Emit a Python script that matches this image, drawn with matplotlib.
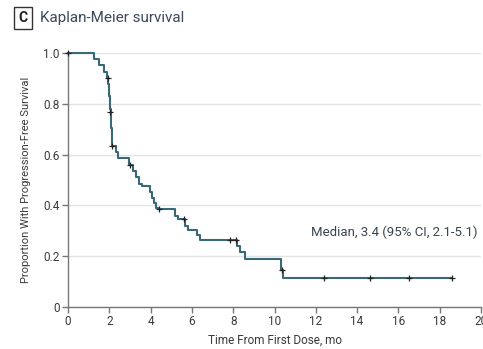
import numpy as np
import matplotlib
matplotlib.use('Agg')
import matplotlib.pyplot as plt
from matplotlib.ticker import FixedLocator

plt.rcParams['font.family'] = ['Roboto', 'DejaVu Sans']

# Kaplan-Meier step points (time in months, survival after the drop)
km_time = [0, 1.25, 1.5, 1.75, 1.88, 1.96, 1.98, 2.0, 2.02, 2.04, 2.06, 2.08, 2.1,
           2.12, 2.15, 2.3, 2.4, 2.95, 3.15, 3.3, 3.45, 3.6, 3.95, 4.05, 4.15, 4.25,
           4.35, 5.2, 5.35, 5.65, 5.8, 6.25, 6.4, 8.2, 8.35, 8.55, 10.3, 10.4]
km_surv = [1.0, 0.976, 0.951, 0.927, 0.902, 0.878, 0.853, 0.829, 0.804, 0.78, 0.755,
           0.731, 0.706, 0.682, 0.634, 0.61, 0.585, 0.56, 0.535, 0.51, 0.485, 0.478,
           0.453, 0.43, 0.41, 0.39, 0.385, 0.36, 0.345, 0.32, 0.305, 0.285, 0.265,
           0.24, 0.215, 0.19, 0.146, 0.115]
t_end = 18.6

# censored observations
cens_time = [0.0, 1.92, 2.03, 2.13, 3.0, 4.4, 5.6, 7.85, 8.15, 10.35, 12.4, 14.6, 16.5, 18.6]
cens_surv = [1.0, 0.902, 0.768, 0.634, 0.56, 0.385, 0.345, 0.265, 0.265, 0.146,
             0.115, 0.115, 0.115, 0.115]

xticks = [0, 2, 4, 6, 8, 10, 12, 14, 16, 18, 20]
yticks = [0, 0.2, 0.4, 0.6, 0.8, 1.0]
ylabels = ['0', '0.2', '0.4', '0.6', '0.8', '1.0']

txt = '#3a3a3a'
fig = plt.figure(figsize=(4.83, 3.49), dpi=100)
ax = fig.add_axes([0.1408, 0.1203, 0.8551, 0.7277])

ax.step(km_time + [t_end], km_surv + [km_surv[-1]], where='post',
        color='#3b6876', lw=1.5, clip_on=False, zorder=3)
ax.plot(cens_time, cens_surv, '+', color='#222222', ms=5, mew=0.9,
        clip_on=False, zorder=4)

ax.set_xlim(0, 20)
ax.set_ylim(0, 1.0)
ax.xaxis.set_major_locator(FixedLocator(xticks))
ax.set_yticks(yticks)
ax.set_yticklabels(ylabels)
ax.grid(axis='y', color='#e3e3e3', lw=1.0)
ax.set_axisbelow(True)
for s in ['top', 'right']:
    ax.spines[s].set_visible(False)
for s in ['left', 'bottom']:
    ax.spines[s].set_color('#777777')
    ax.spines[s].set_linewidth(1.0)
ax.tick_params(colors='#777777', labelcolor=txt, labelsize=8.5, length=4, width=1.0, pad=2)

ax.set_xlabel('Time From First Dose, mo', fontsize=8.5, color=txt, labelpad=4)
ax.set_ylabel('Proportion With Progression-Free Survival', fontsize=8, color=txt, labelpad=9)

ax.text(11.75, 0.295, 'Median, 3.4 (95% CI, 2.1-5.1)', fontsize=9.5, color='#3a4550',
        va='center', ha='left')

fig.text(0.048, 0.948, 'C', fontsize=10, fontweight='bold', color='#222222',
         ha='center', va='center',
         bbox=dict(boxstyle='square,pad=0.3', fc='white', ec='#333333', lw=1.0))
fig.text(0.083, 0.948, 'Kaplan-Meier survival', fontsize=11, color='#3a4a5c',
         ha='left', va='center')

fig.savefig('out.png', dpi=100)
